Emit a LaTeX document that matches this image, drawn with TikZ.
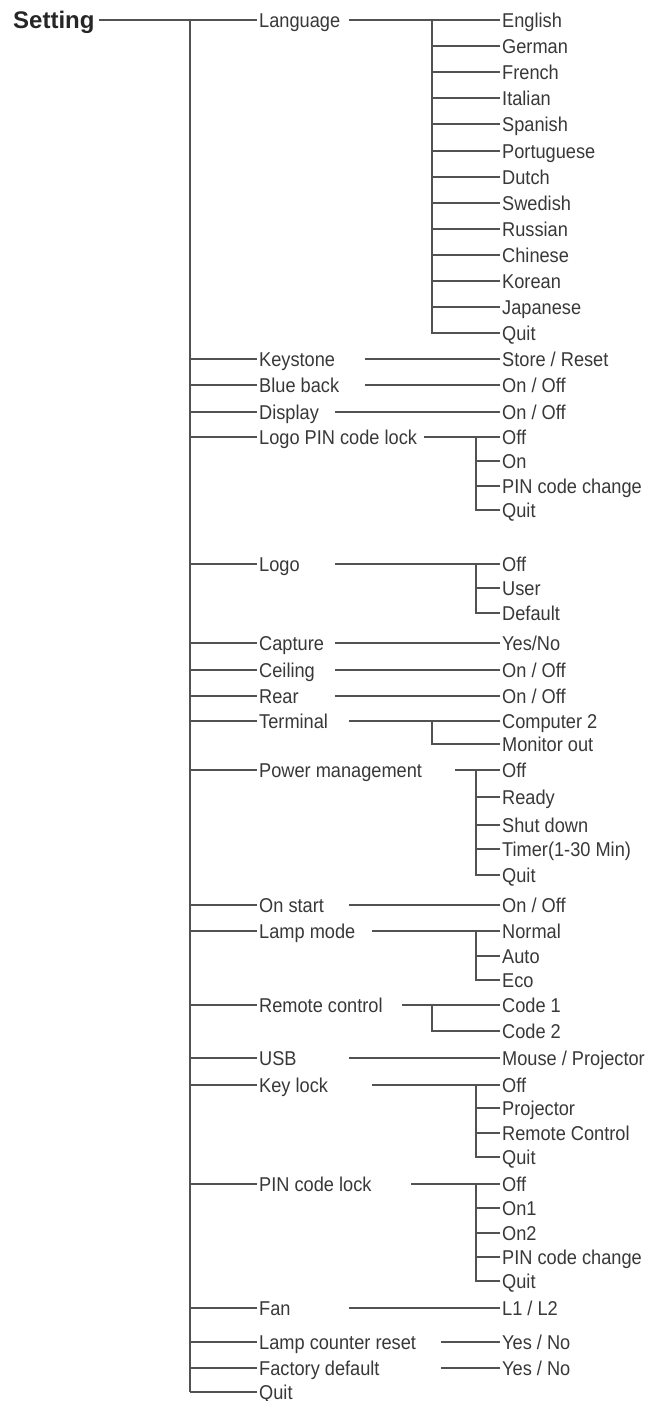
\documentclass[tikz,border=0pt]{standalone}
\usepackage{fontspec}
\setmainfont{Liberation Sans}
\newfontfamily\itemfont{Liberation Sans}[FakeStretch=0.91]
\begin{document}
\begin{tikzpicture}[x=1pt,y=-1pt,
  lbl/.style={anchor=west, inner xsep=2pt, inner ysep=0pt, text height=14.2pt, text depth=0pt, font=\itemfont\fontsize{20}{24}\selectfont, text=black!78},
  head/.style={anchor=west, inner sep=0pt, text height=17.2pt, text depth=0pt, font=\bfseries\fontsize{24}{28}\selectfont, text=black!85},
  ln/.style={draw=black!68, line width=1.8pt}]
\useasboundingbox (0,0) rectangle (657,1401);
% column coordinates
\coordinate (trunk) at (190,20);
\coordinate (sA) at (432,0);
\coordinate (sB) at (476,0);
\coordinate (g335) at (335,0);
\coordinate (g349) at (349,0);
\coordinate (g365) at (365,0);
\coordinate (g372) at (372,0);
\coordinate (g402) at (402,0);
\coordinate (g411) at (411,0);
\coordinate (g420) at (424,0);
\coordinate (g440) at (441,0);
\coordinate (g455) at (455,0);

\node[head] (setting) at (13,20) {Setting};

% level 1
\node[lbl] (language) at (257,20) {Language};
\node[lbl] (keystone) at (257,359) {Keystone};
\node[lbl] (blueback) at (257,385) {Blue back};
\node[lbl] (display) at (257,412) {Display};
\node[lbl] (logopin) at (257,437) {Logo PIN code lock};
\node[lbl] (logo) at (257,564) {Logo};
\node[lbl] (capture) at (257,643) {Capture};
\node[lbl] (ceiling) at (257,670) {Ceiling};
\node[lbl] (rear) at (257,696) {Rear};
\node[lbl] (terminal) at (257,721) {Terminal};
\node[lbl] (power) at (257,770) {Power management};
\node[lbl] (onstart) at (257,905) {On start};
\node[lbl] (lampmode) at (257,931) {Lamp mode};
\node[lbl] (remote) at (257,1005) {Remote control};
\node[lbl] (usb) at (257,1058) {USB};
\node[lbl] (keylock) at (257,1085) {Key lock};
\node[lbl] (pinlock) at (257,1184) {PIN code lock};
\node[lbl] (fan) at (257,1308) {Fan};
\node[lbl] (lampreset) at (257,1342) {Lamp counter reset};
\node[lbl] (factory) at (257,1368) {Factory default};
\node[lbl] (quit) at (257,1392) {Quit};

% level 2
\node[lbl] (en) at (500,20) {English};
\node[lbl] (de) at (500,46) {German};
\node[lbl] (fr) at (500,72) {French};
\node[lbl] (it) at (500,98) {Italian};
\node[lbl] (es) at (500,124) {Spanish};
\node[lbl] (pt) at (500,151) {Portuguese};
\node[lbl] (nl) at (500,177) {Dutch};
\node[lbl] (sv) at (500,203) {Swedish};
\node[lbl] (ru) at (500,229) {Russian};
\node[lbl] (zh) at (500,255) {Chinese};
\node[lbl] (ko) at (500,281) {Korean};
\node[lbl] (ja) at (500,307) {Japanese};
\node[lbl] (lq) at (500,333) {Quit};
\node[lbl] (ksv) at (500,359) {Store / Reset};
\node[lbl] (bbv) at (500,385) {On / Off};
\node[lbl] (dpv) at (500,412) {On / Off};
\node[lbl] (lpoff) at (500,437) {Off};
\node[lbl] (lpon) at (500,461) {On};
\node[lbl] (lpchg) at (500,486) {PIN code change};
\node[lbl] (lpq) at (500,510) {Quit};
\node[lbl] (looff) at (500,564) {Off};
\node[lbl] (louser) at (500,588) {User};
\node[lbl] (lodef) at (500,613) {Default};
\node[lbl] (capv) at (500,643) {Yes/No};
\node[lbl] (ceilv) at (500,670) {On / Off};
\node[lbl] (rearv) at (500,696) {On / Off};
\node[lbl] (tc2) at (500,721) {Computer 2};
\node[lbl] (tmon) at (500,744) {Monitor out};
\node[lbl] (pmoff) at (500,770) {Off};
\node[lbl] (pmready) at (500,797) {Ready};
\node[lbl] (pmshut) at (500,825) {Shut down};
\node[lbl] (pmtimer) at (500,849) {Timer(1-30 Min)};
\node[lbl] (pmq) at (500,875) {Quit};
\node[lbl] (osv) at (500,905) {On / Off};
\node[lbl] (lmnorm) at (500,931) {Normal};
\node[lbl] (lmauto) at (500,956) {Auto};
\node[lbl] (lmeco) at (500,980) {Eco};
\node[lbl] (rc1) at (500,1005) {Code 1};
\node[lbl] (rc2) at (500,1031) {Code 2};
\node[lbl] (usbv) at (500,1058) {Mouse / Projector};
\node[lbl] (kloff) at (500,1085) {Off};
\node[lbl] (klproj) at (500,1108) {Projector};
\node[lbl] (klrc) at (500,1133) {Remote Control};
\node[lbl] (klq) at (500,1157) {Quit};
\node[lbl] (ploff) at (500,1184) {Off};
\node[lbl] (plon1) at (500,1208) {On1};
\node[lbl] (plon2) at (500,1233) {On2};
\node[lbl] (plchg) at (500,1257) {PIN code change};
\node[lbl] (plq) at (500,1281) {Quit};
\node[lbl] (fanv) at (500,1308) {L1 / L2};
\node[lbl] (lcrv) at (500,1342) {Yes / No};
\node[lbl] (fdv) at (500,1368) {Yes / No};

% trunk
\draw[ln] ([xshift=4pt]setting.east) -- (language.west);
\draw[ln] (trunk) -- (quit.west -| trunk);
\foreach \n in {keystone,blueback,display,logopin,logo,capture,ceiling,rear,terminal,power,onstart,lampmode,remote,usb,keylock,pinlock,fan,lampreset,factory,quit}
  \draw[ln] (\n.west -| trunk) -- (\n.west);

% single connectors
\draw[ln] (keystone.west -| g365) -- (ksv.west);
\draw[ln] (blueback.west -| g365) -- (bbv.west);
\draw[ln] (display.west -| g335) -- (dpv.west);
\draw[ln] (capture.west -| g335) -- (capv.west);
\draw[ln] (ceiling.west -| g335) -- (ceilv.west);
\draw[ln] (rear.west -| g335) -- (rearv.west);
\draw[ln] (onstart.west -| g349) -- (osv.west);
\draw[ln] (usb.west -| g349) -- (usbv.west);
\draw[ln] (fan.west -| g349) -- (fanv.west);
\draw[ln] (lampreset.west -| g440) -- (lcrv.west);
\draw[ln] (factory.west -| g440) -- (fdv.west);

% Language group
\draw[ln] (language.west -| g349) -- (en.west);
\draw[ln] (en.west -| sA) -- (lq.west -| sA) -- (lq.west);
\foreach \c in {de,fr,it,es,pt,nl,sv,ru,zh,ko,ja}
  \draw[ln] (\c.west -| sA) -- (\c.west);

% Logo PIN code lock group
\draw[ln] (logopin.west -| g420) -- (lpoff.west);
\draw[ln] (lpoff.west -| sB) -- (lpq.west -| sB) -- (lpq.west);
\foreach \c in {lpon,lpchg}
  \draw[ln] (\c.west -| sB) -- (\c.west);

% Logo group
\draw[ln] (logo.west -| g335) -- (looff.west);
\draw[ln] (looff.west -| sB) -- (lodef.west -| sB) -- (lodef.west);
\draw[ln] (louser.west -| sB) -- (louser.west);

% Terminal group
\draw[ln] (terminal.west -| g349) -- (tc2.west);
\draw[ln] (tc2.west -| sA) -- (tmon.west -| sA) -- (tmon.west);

% Power management group
\draw[ln] (power.west -| g455) -- (pmoff.west);
\draw[ln] (pmoff.west -| sB) -- (pmq.west -| sB) -- (pmq.west);
\foreach \c in {pmready,pmshut,pmtimer}
  \draw[ln] (\c.west -| sB) -- (\c.west);

% Lamp mode group
\draw[ln] (lampmode.west -| g372) -- (lmnorm.west);
\draw[ln] (lmnorm.west -| sB) -- (lmeco.west -| sB) -- (lmeco.west);
\draw[ln] (lmauto.west -| sB) -- (lmauto.west);

% Remote control group
\draw[ln] (remote.west -| g402) -- (rc1.west);
\draw[ln] (rc1.west -| sA) -- (rc2.west -| sA) -- (rc2.west);

% Key lock group
\draw[ln] (keylock.west -| g372) -- (kloff.west);
\draw[ln] (kloff.west -| sB) -- (klq.west -| sB) -- (klq.west);
\foreach \c in {klproj,klrc}
  \draw[ln] (\c.west -| sB) -- (\c.west);

% PIN code lock group
\draw[ln] (pinlock.west -| g411) -- (ploff.west);
\draw[ln] (ploff.west -| sB) -- (plq.west -| sB) -- (plq.west);
\foreach \c in {plon1,plon2,plchg}
  \draw[ln] (\c.west -| sB) -- (\c.west);
\end{tikzpicture}
\end{document}
